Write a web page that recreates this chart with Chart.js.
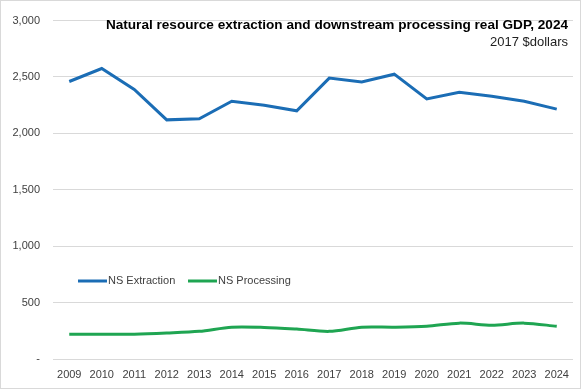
<!DOCTYPE html>
<html>
<head>
<meta charset="utf-8">
<script src="https://cdn.jsdelivr.net/npm/chart.js@4"></script>
<style>
  html, body { margin: 0; padding: 0; background: #fff; }
  #wrap { width: 581px; height: 389px; position: relative; box-sizing: border-box; border: 1px solid #d9d9d9; }
  canvas { display: block; }
</style>
</head>
<body>
<div id="wrap"><canvas id="myChart" width="579" height="387"></canvas></div>
<script>
// chart data
const years = ['2009','2010','2011','2012','2013','2014','2015','2016','2017','2018','2019','2020','2021','2022','2023','2024'];
const extraction = [2460, 2575, 2390, 2120, 2130, 2285, 2250, 2200, 2490, 2455, 2525, 2305, 2365, 2330, 2285, 2215];
const processing = [220, 220, 220, 230, 245, 282, 280, 265, 245, 282, 282, 290, 318, 300, 318, 290];
const yTicks = [0, 500, 1000, 1500, 2000, 2500, 3000];

const titleText = 'Natural resource extraction and downstream processing real GDP, 2024';
const subtitleText = '2017 $dollars';

const blue = '#1B6DB5';
const green = '#1FA552';
const fontFam = '"Liberation Sans", Arial, sans-serif';

// draws the title and the in-plot legend
const overlay = {
    id: 'overlay',
    afterDraw(chart) {
        const ctx = chart.ctx;
        ctx.save();
        ctx.fillStyle = '#000';
        ctx.textAlign = 'right';
        ctx.textBaseline = 'middle';
        ctx.font = 'bold 13.6px ' + fontFam;
        ctx.fillText(titleText, 567, 24);
        ctx.font = '13px ' + fontFam;
        ctx.fillStyle = '#222';
        ctx.fillText(subtitleText, 567, 41);

        // legend
        const items = [
            { label: 'NS Extraction', color: blue, x: 77 },
            { label: 'NS Processing', color: green, x: 187 }
        ];
        ctx.textAlign = 'left';
        ctx.font = '11px ' + fontFam;
        items.forEach(it => {
            ctx.strokeStyle = it.color;
            ctx.lineWidth = 3;
            ctx.beginPath();
            ctx.moveTo(it.x, 280);
            ctx.lineTo(it.x + 29, 280);
            ctx.stroke();
            ctx.fillStyle = '#404040';
            ctx.fillText(it.label, it.x + 30, 280);
        });
        ctx.restore();
    }
};

new Chart(document.getElementById('myChart').getContext('2d'), {
    type: 'line',
    data: {
        labels: years,
        datasets: [
            {
                label: 'NS Extraction',
                data: extraction,
                borderColor: blue,
                borderWidth: 3,
                pointRadius: 0,
                tension: 0
            },
            {
                label: 'NS Processing',
                data: processing,
                borderColor: green,
                borderWidth: 3,
                pointRadius: 0,
                tension: 0.3
            }
        ]
    },
    options: {
        responsive: false,
        animation: false,
        layout: { padding: { top: 17, right: 7, left: 0, bottom: 0 } },
        plugins: {
            legend: { display: false },
            title: { display: false },
            tooltip: { enabled: false }
        },
        scales: {
            x: {
                offset: true,
                grid: { display: false, drawTicks: false },
                border: { display: false },
                ticks: {
                    color: '#404040',
                    font: { family: fontFam, size: 11 },
                    maxRotation: 0,
                    autoSkip: false,
                    padding: 9
                },
                afterFit(scale) { scale.height = 29; }
            },
            y: {
                min: 0,
                max: 3000,
                afterBuildTicks(scale) { scale.ticks = yTicks.map(v => ({ value: v })); },
                grid: { color: '#d9d9d9', drawTicks: false },
                border: { display: false },
                ticks: {
                    color: '#404040',
                    font: { family: fontFam, size: 11 },
                    padding: 13,
                    callback: v => v === 0 ? '-' : v.toLocaleString('en-US')
                },
                afterFit(scale) { scale.width = 52; }
            }
        }
    },
    plugins: [overlay]
});
</script>
</body>
</html>
